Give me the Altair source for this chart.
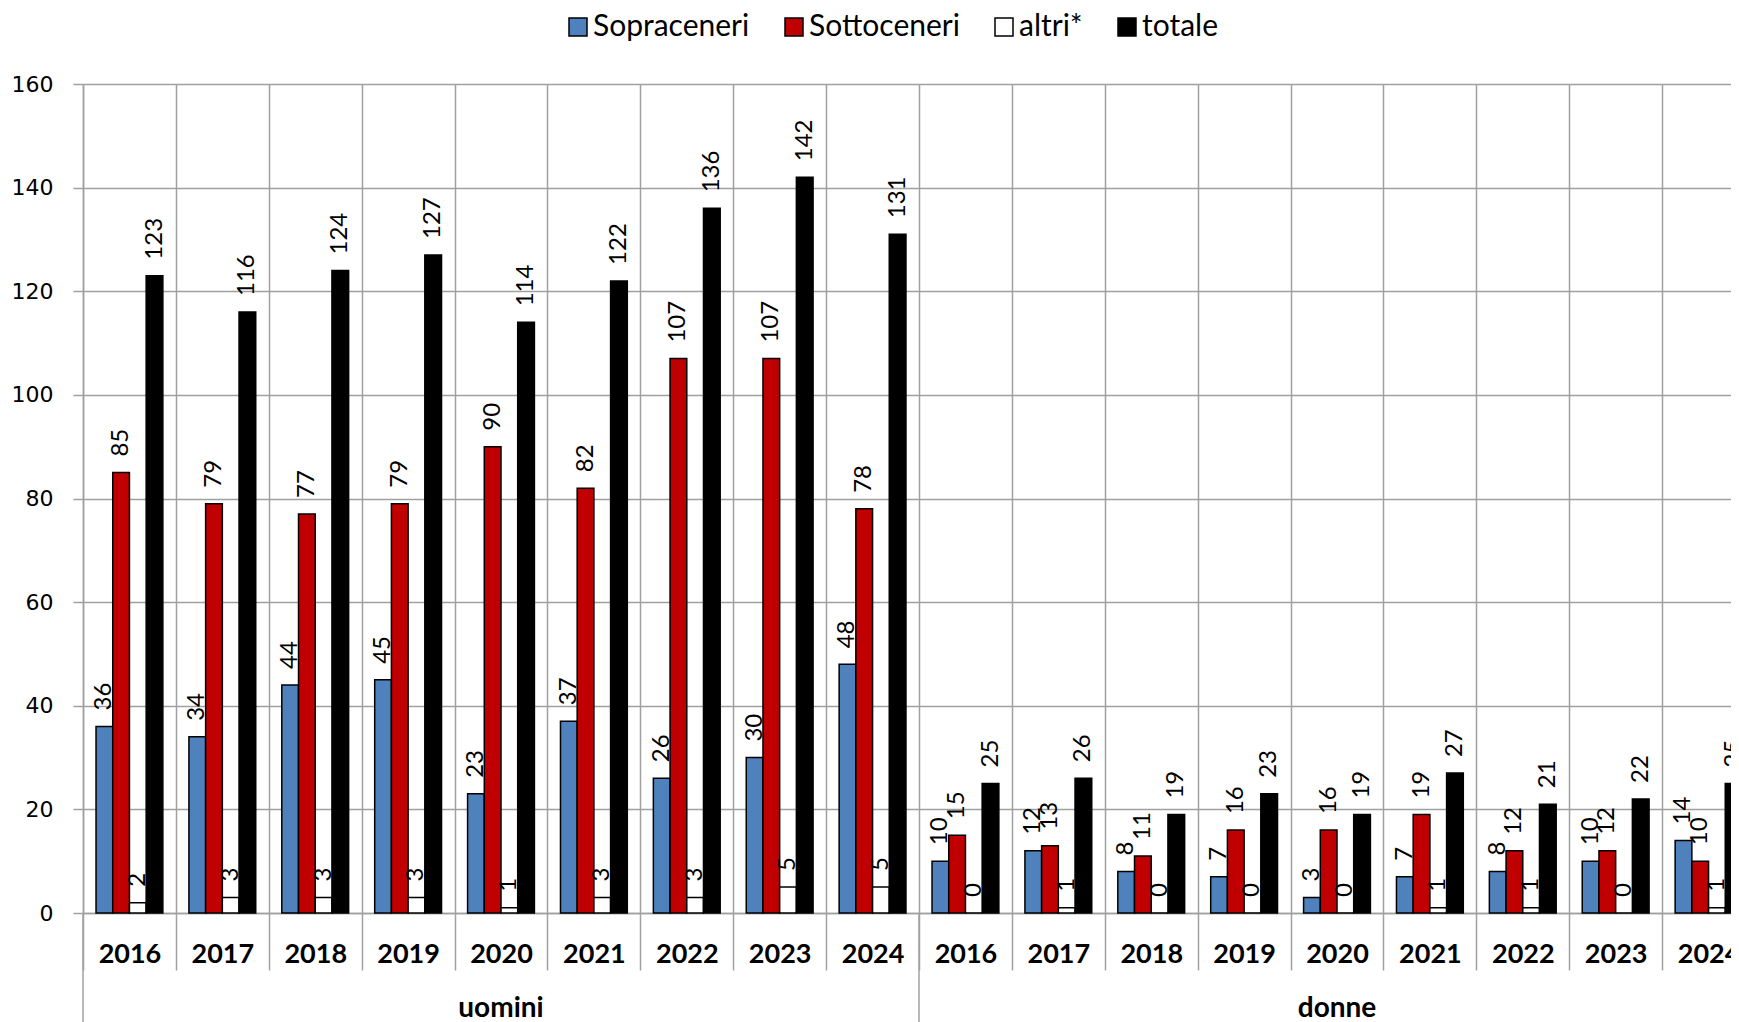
import altair as alt
import pandas as pd

years = [2016, 2017, 2018, 2019, 2020, 2021, 2022, 2023, 2024]
sexes = ["uomini", "donne"]
series = ["Sopraceneri", "Sottoceneri", "altri*", "totale"]
colors = ["#4F81BD", "#C00000", "#FFFFFF", "#000000"]

uomini_sopra = [36, 34, 44, 45, 23, 37, 26, 30, 48]
uomini_sotto = [85, 79, 77, 79, 90, 82, 107, 107, 78]
uomini_altri = [2, 3, 3, 3, 1, 3, 3, 5, 5]
uomini_tot = [123, 116, 124, 127, 114, 122, 136, 142, 131]

donne_sopra = [10, 12, 8, 7, 3, 7, 8, 10, 14]
donne_sotto = [15, 13, 11, 16, 16, 19, 12, 12, 10]
donne_altri = [0, 1, 0, 0, 0, 1, 1, 0, 1]
donne_tot = [25, 26, 19, 23, 19, 27, 21, 22, 25]

vals = {
    "uomini": [uomini_sopra, uomini_sotto, uomini_altri, uomini_tot],
    "donne": [donne_sopra, donne_sotto, donne_altri, donne_tot],
}

rows = []
for sx in sexes:
    for si, s in enumerate(series):
        for yi, y in enumerate(years):
            rows.append({"grp": f"{sx}|{y}", "series": s, "value": vals[sx][si][yi]})
df = pd.DataFrame(rows)
order = [f"{sx}|{y}" for sx in sexes for y in years]

PW = 1648     # visible plot width (the rest is cropped, as in the reference)
PFULL = 1672  # full band range
PH = 829
GRAY = "#A0A0A0"

xscale = alt.Scale(domain=order, range=[0, PFULL], paddingInner=0, paddingOuter=0)
xoff = alt.XOffset("series:N", sort=series,
                   scale=alt.Scale(domain=series, paddingInner=0, paddingOuter=0.78))
yenc = alt.Y("value:Q", scale=alt.Scale(domain=[0, 160]),
             axis=alt.Axis(values=list(range(0, 161, 20)), title=None,
                           grid=True, gridColor=GRAY, gridWidth=1.5,
                           domainColor=GRAY, domainWidth=1.5,
                           tickColor=GRAY, tickWidth=1.5, tickSize=10,
                           labelPadding=20, labelFont="DejaVu Sans",
                           labelFontSize=22, labelColor="#000000"))

xaxis = alt.Axis(title=None, labelExpr="split(datum.label, '|')[1]",
                 labelAngle=0, tickBand="extent", grid=True, gridColor=GRAY,
                 gridWidth=1.5, domainColor=GRAY, domainWidth=1.5,
                 tickColor=GRAY, tickWidth=1.5, tickSize=57,
                 labelPadding=-8, labelBaseline="alphabetic",
                 labelFont="Lato", labelFontWeight="bold", labelFontSize=27,
                 labelColor="#000000", labelOverlap=False, labelBound=False)

bars = alt.Chart(df).mark_bar(stroke="black", strokeWidth=1.5).encode(
    x=alt.X("grp:N", sort=order, scale=xscale, axis=xaxis),
    xOffset=xoff,
    y=yenc,
    color=alt.Color("series:N", sort=series,
                    scale=alt.Scale(domain=series, range=colors),
                    legend=alt.Legend(title=None, orient="none", direction="horizontal",
                                      legendX=480, legendY=-72,
                                      symbolType="square", symbolSize=324,
                                      symbolStrokeColor="black", symbolStrokeWidth=1.5,
                                      symbolOpacity=1,
                                      labelFont="Lato", labelFontSize=30,
                                      labelColor="#000000", labelOffset=0,
                                      columnPadding=29, padding=0)),
)

labels = alt.Chart(df).mark_text(angle=270, align="left", baseline="middle", dx=16,
                                 font="Lato", fontSize=24, color="#000000").encode(
    x=alt.X("grp:N", sort=order, scale=xscale),
    xOffset=xoff,
    y=alt.Y("value:Q"),
    text=alt.Text("value:Q"),
)

div_df = pd.DataFrame({"grp": ["uomini|2016", "donne|2016"]})
dividers = alt.Chart(div_df).mark_rule(color=GRAY, strokeWidth=1.5).encode(
    x=alt.X("grp:N", sort=order, scale=xscale, bandPosition=0),
    y=alt.value(PH),
    y2=alt.value(PH + 120),
)

sex_df = pd.DataFrame({"grp": ["uomini|2020", "donne|2020"], "label": sexes})
sex_labels = alt.Chart(sex_df).mark_text(font="Lato", fontWeight="bold", fontSize=28,
                                         baseline="alphabetic", color="#000000").encode(
    x=alt.X("grp:N", sort=order, scale=xscale),
    y=alt.value(PH + 104),
    text="label:N",
)

chart = alt.layer(bars, labels, dividers, sex_labels).properties(
    width=PW, height=PH,
    autosize=alt.AutoSizeParams(type="none"),
    padding={"left": 75, "top": 76, "right": 0, "bottom": 109},
).configure_view(stroke=None).configure(background="white")

chart.save("out.html", embed_options={"renderer": "svg", "actions": False})
